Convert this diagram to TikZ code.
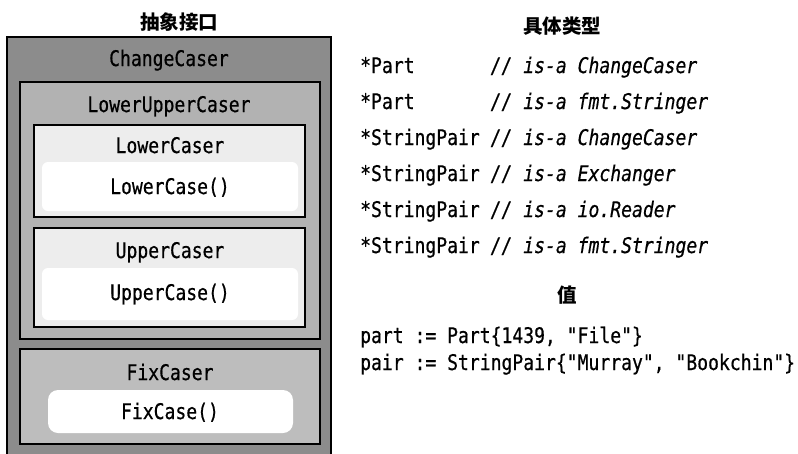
\documentclass[tikz,border=0pt]{standalone}
\usepackage{fontspec}
\setmonofont[FakeStretch=0.84,FakeBold=0.6]{DejaVu Sans Mono}
\newfontfamily\cjk{Noto Sans CJK SC}
\definecolor{outergray}{gray}{0.55}
\definecolor{midgray}{gray}{0.70}
\definecolor{fixgray}{gray}{0.74}
\definecolor{boxwhite}{gray}{0.93}

\begin{document}
\begin{tikzpicture}[x=1pt,y=1pt]
    \tikzstyle{every node}+=[inner sep=0pt]
    \tikzstyle{code}=[anchor=base west, font=\ttfamily\fontsize{21.5}{24}\selectfont]
    \tikzstyle{iface}=[anchor=base, font=\ttfamily\fontsize{21.5}{24}\selectfont]
    \tikzstyle{title}=[font=\cjk\bfseries\fontsize{19.5}{22}\selectfont]
    \tikzstyle{box}=[draw=black, line width=2pt]
    \useasboundingbox (0,0) rectangle (798,-453);
    % interfaces
    \fill [outergray] (7,-37) rectangle (331,-460);
    \draw [black, line width=2pt] (7,-460) |- (331,-37) -- (331,-460);
    \draw [box, fill=midgray] (20,-82) rectangle (320,-339);
    \draw [box, fill=boxwhite] (34,-125) rectangle (305,-217);
    \fill [white, rounded corners=6pt] (42,-162) rectangle (298,-211);
    \draw [box, fill=boxwhite] (34,-228) rectangle (305,-327);
    \fill [white, rounded corners=6pt] (42,-268) rectangle (298,-320);
    \draw [box, fill=fixgray] (20,-349) rectangle (320,-444);
    \fill [white, rounded corners=10pt] (48,-390) rectangle (293,-433);
    \node [title] (abstract) at (179,-22) {抽象接口};
    \node [iface] (changecaser) at (169,-66) {ChangeCaser};
    \node [iface] (lowerupper) at (169,-112) {LowerUpperCaser};
    \node [iface] (lowercaser) at (170,-153) {LowerCaser};
    \node [iface] (lowercase) at (170,-194) {LowerCase()};
    \node [iface] (uppercaser) at (170,-258) {UpperCaser};
    \node [iface] (uppercase) at (170,-300) {UpperCase()};
    \node [iface] (fixcaser) at (170,-380) {FixCaser};
    \node [iface] (fixcase) at (170,-419) {FixCase()};
    % concrete types
    \node [title] (concrete) at (562,-26) {具体类型};
    \node [code] (part1) at (360,-73) {*Part\ \ \ \ \ \ \ {\itshape// is-a ChangeCaser}};
    \node [code] (part2) at (360,-109) {*Part\ \ \ \ \ \ \ {\itshape// is-a fmt.Stringer}};
    \node [code] (pair1) at (360,-145) {*StringPair {\itshape// is-a ChangeCaser}};
    \node [code] (pair2) at (360,-181) {*StringPair {\itshape// is-a Exchanger}};
    \node [code] (pair3) at (360,-217) {*StringPair {\itshape// is-a io.Reader}};
    \node [code] (pair4) at (360,-253) {*StringPair {\itshape// is-a fmt.Stringer}};
    % values
    \node [title] (value) at (567,-295) {值};
    \node [code] (partval) at (360,-343) {part := Part\{1439, "File"\}};
    \node [code] (pairval) at (360,-370) {pair := StringPair\{"Murray", "Bookchin"\}};
\end{tikzpicture}
\end{document}
